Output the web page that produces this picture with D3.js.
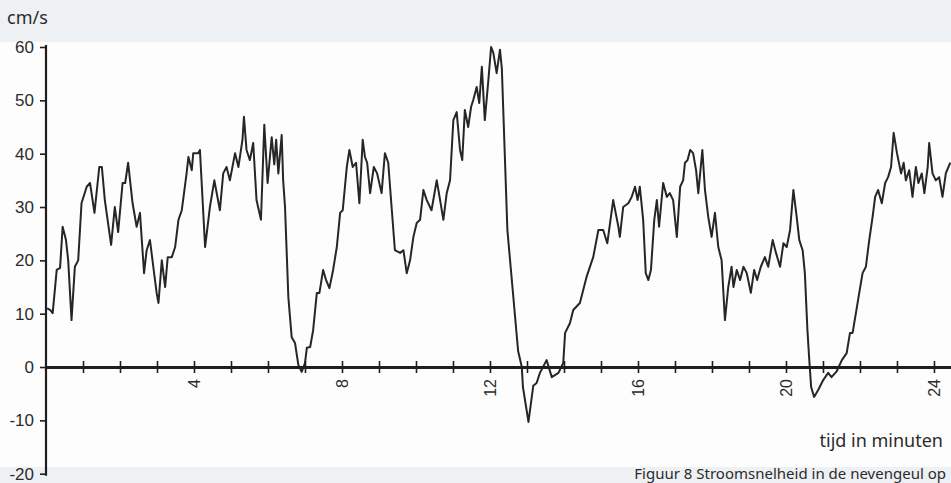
<!DOCTYPE html>
<html lang="nl">
<head>
  <meta charset="UTF-8">
  <title>stroomsnelheid nevengeul</title>
  <script src="https://d3js.org/d3.v7.min.js"></script>
  <style>
    body { margin: 0; background: #edf1f4; }
    svg { display: block; font-family: "Noto Sans", "Open Sans", sans-serif; }
  </style>
</head>
<body>
<svg></svg>
<script>
  // tijd (minuten) en snelheid (cm/s)
  const minutes = [
    0.03, 0.11, 0.18, 0.29, 0.38, 0.45, 0.54, 0.60, 0.69, 0.78, 0.87, 0.96, 1.10, 1.19, 1.31, 1.44, 1.51, 1.59, 1.76, 1.86,
    1.95, 2.07, 2.14, 2.22, 2.34, 2.45, 2.54, 2.65, 2.72, 2.81, 2.90, 2.99, 3.04, 3.13, 3.22, 3.29, 3.40, 3.49, 3.58, 3.67,
    3.80, 3.85, 3.94, 3.98, 4.12, 4.16, 4.30, 4.43, 4.55, 4.70, 4.79, 4.88, 4.97, 5.11, 5.20, 5.31, 5.35, 5.42, 5.51, 5.60,
    5.69, 5.81, 5.90, 5.99, 6.10, 6.17, 6.22, 6.28, 6.37, 6.41, 6.46, 6.55, 6.64, 6.73, 6.82, 6.91, 7.00, 7.05, 7.14, 7.22,
    7.32, 7.39, 7.49, 7.57, 7.66, 7.76, 7.86, 7.95, 8.02, 8.13, 8.20, 8.29, 8.38, 8.47, 8.56, 8.62, 8.68, 8.76, 8.86, 8.95,
    9.07, 9.16, 9.25, 9.34, 9.43, 9.57, 9.66, 9.75, 9.84, 9.93, 10.02, 10.11, 10.20, 10.29, 10.42, 10.56, 10.62, 10.74, 10.83, 10.92,
    11.01, 11.10, 11.19, 11.25, 11.32, 11.41, 11.49, 11.55, 11.64, 11.71, 11.78, 11.86, 11.95, 12.03, 12.09, 12.18, 12.27, 12.32, 12.47, 12.76,
    12.86, 12.89, 13.04, 13.17, 13.26, 13.35, 13.53, 13.67, 13.85, 13.98, 14.03, 14.16, 14.25, 14.43, 14.61, 14.79, 14.93, 15.06, 15.17, 15.33,
    15.47, 15.51, 15.60, 15.74, 15.83, 15.92, 15.99, 16.05, 16.14, 16.21, 16.28, 16.35, 16.44, 16.51, 16.57, 16.68, 16.78, 16.86, 16.95, 17.05,
    17.14, 17.22, 17.27, 17.34, 17.41, 17.49, 17.57, 17.63, 17.74, 17.81, 17.90, 17.99, 18.08, 18.17, 18.26, 18.35, 18.44, 18.53, 18.58, 18.67,
    18.76, 18.85, 18.94, 19.05, 19.14, 19.22, 19.32, 19.43, 19.52, 19.64, 19.73, 19.84, 19.93, 20.02, 20.11, 20.20, 20.29, 20.36, 20.45, 20.51,
    20.58, 20.63, 20.68, 20.76, 20.87, 21.01, 21.14, 21.23, 21.37, 21.51, 21.64, 21.73, 21.80, 21.89, 21.98, 22.07, 22.16, 22.25, 22.34, 22.41,
    22.49, 22.59, 22.68, 22.76, 22.84, 22.91, 23.00, 23.11, 23.18, 23.24, 23.33, 23.42, 23.51, 23.58, 23.67, 23.74, 23.83, 23.87, 23.96, 24.05,
    24.14, 24.23, 24.32, 24.44
  ]
  const speed = [
    11, 10.7, 10.1, 18.2, 18.6, 26.3, 23.8, 20, 8.8, 18.8, 20, 30.7, 33.8, 34.5, 28.9, 37.5, 37.5, 31.3, 22.9, 30,
    25.3, 34.5, 34.5, 38.3, 30.7, 26.3, 28.9, 17.6, 21.9, 23.8, 18.8, 13.9, 12, 20, 15, 20.6, 20.6, 22.5, 27.6, 29.4,
    36.3, 39.4, 36.9, 40.1, 40.1, 40.7, 22.5, 30, 35, 29.4, 36.3, 37.5, 35, 40.1, 37.5, 42.6, 46.9, 40.7, 38.8, 42,
    31.3, 27.6, 45.4, 34.5, 43.1, 38, 42.6, 36.3, 43.5, 35, 30, 13.1, 5.6, 4.5, 0.4, -0.9, 0.75, 3.6, 3.75, 6.9,
    13.9, 13.9, 18.2, 16.3, 14.8, 18.2, 22.5, 28.9, 29.4, 37.5, 40.7, 37.5, 38.3, 30.7, 42.6, 39.4, 38.3, 32.6, 37.5, 36.3,
    32.6, 40.1, 38.3, 30, 21.9, 21.4, 21.9, 17.6, 20, 24.4, 27, 27.6, 33.2, 31.3, 29.4, 35, 32.6, 27.6, 32.6, 35,
    46.3, 47.8, 40.7, 38.8, 48.2, 45, 48.8, 50.1, 52.5, 49.5, 56.3, 46.3, 53.3, 60, 58.9, 55.1, 59.5, 56, 25.7, 3,
    0, -3.75, -10.3, -3.5, -3, -1.1, 1.3, -1.9, -1.1, 0.75, 6.4, 8.2, 10.7, 12, 16.9, 20.6, 25.7, 25.7, 23.2, 31.3,
    26.3, 24.4, 30, 30.7, 31.9, 33.8, 31.3, 33.8, 27.6, 17.6, 16.3, 18.2, 27.6, 31.3, 26.3, 34.5, 31.9, 32.6, 31.3, 24.4,
    33.8, 35, 38.3, 38.8, 40.7, 40.1, 36.9, 32.6, 40.7, 33.2, 28.1, 24.4, 28.9, 22.5, 20, 8.8, 15, 18.8, 15, 18.2,
    16.3, 18.8, 17.6, 13.9, 18.2, 16.3, 18.8, 20.6, 18.8, 23.8, 21.4, 18.8, 23.2, 22.5, 25.7, 33.2, 28.1, 23.8, 21.9, 17.6,
    6.9, 1.3, -3.75, -5.6, -4.3, -2.4, -1.1, -1.9, -0.8, 1.3, 2.6, 6.4, 6.4, 10.1, 13.9, 17.6, 18.8, 23.8, 28.1, 31.9,
    33.2, 30.7, 34.5, 35.6, 37.5, 43.9, 40.1, 36.3, 38.3, 35, 36.9, 31.9, 37.5, 34.5, 36.3, 32.6, 37.5, 42, 36.3, 35,
    35.6, 31.9, 36.3, 38.3
  ]
  const yTicks = [-20, -10, 0, 10, 20, 30, 40, 50, 60]
  const xTicks = d3.range(1, 25)
  const xLabels = [4, 8, 12, 16, 20, 24]

  const width = 951, height = 483

  const x = d3.scaleLinear()
      .domain([0, 24.46])
      .range([46, width])

  const y = d3.scaleLinear()
      .domain([-20, 60])
      .range([473.7, 47])

  const svg = d3.select('svg')
      .attr('width', width)
      .attr('height', height)
      .attr('viewBox', [0, 0, width, height])

  // papier: lichte banden boven en onder
  svg.append('rect')
      .attr('x', 0).attr('y', 42)
      .attr('width', width).attr('height', 425)
      .attr('fill', '#fdfdfd')

  // meetreeks
  svg.append('path')
      .datum(minutes.map((m, i) => [m, speed[i]]))
      .attr('fill', 'none')
      .attr('stroke', '#262626')
      .attr('stroke-width', 2)
      .attr('stroke-linejoin', 'round')
      .attr('d', d3.line().x(d => x(d[0])).y(d => y(d[1])))

  // y-as
  svg.append('g')
      .attr('transform', `translate(${x(0)},0)`)
      .call(d3.axisLeft(y).tickValues(yTicks).tickSize(6).tickPadding(6).tickSizeOuter(0)
          .tickFormat(d => d.toString()))
      .call(g => g.select('.domain').attr('stroke', '#1e1e1e').attr('stroke-width', 2.2)
          .attr('d', `M0,${y(-20) + 2}V${y(60) - 2}`))
      .call(g => g.selectAll('.tick line').attr('stroke', '#1e1e1e').attr('stroke-width', 1.6))
      .call(g => g.selectAll('.tick text')
          .attr('fill', '#2b2b2b')
          .attr('font-size', 17))

  // nullijn met minuutstreepjes
  svg.append('g')
      .attr('transform', `translate(0,${y(0)})`)
      .call(d3.axisBottom(x).tickValues(xTicks).tickSize(6).tickSizeOuter(0)
          .tickFormat(d => xLabels.includes(d) ? d : ''))
      .call(g => g.select('.domain').attr('stroke', '#1e1e1e').attr('stroke-width', 2.8))
      .call(g => g.selectAll('.tick line').attr('stroke', '#1e1e1e').attr('stroke-width', 1.6))
      .call(g => g.selectAll('.tick')
          .append('line')
          .attr('y2', -6)
          .attr('stroke', '#1e1e1e')
          .attr('stroke-width', 1.6))
      .call(g => g.selectAll('.tick text')
          .attr('fill', '#2b2b2b')
          .attr('font-size', 16)
          .attr('text-anchor', 'end')
          .attr('transform', 'rotate(-90)')
          .attr('x', -12)
          .attr('y', 0)
          .attr('dy', '0.35em'))

  svg.append('text')
      .attr('x', 7)
      .attr('y', 24)
      .attr('font-size', 18)
      .attr('fill', '#2b2b2b')
      .text('cm/s')

  svg.append('text')
      .attr('x', 943)
      .attr('y', 447)
      .attr('text-anchor', 'end')
      .attr('font-size', 18)
      .attr('fill', '#2b2b2b')
      .text('tijd in minuten')

  // bijschrift onderaan
  svg.append('text')
      .attr('x', 946)
      .attr('y', 479)
      .attr('text-anchor', 'end')
      .attr('font-size', 15)
      .attr('fill', '#2b2b2b')
      .text('Figuur 8  Stroomsnelheid in de nevengeul op')
</script>
</body>
</html>
